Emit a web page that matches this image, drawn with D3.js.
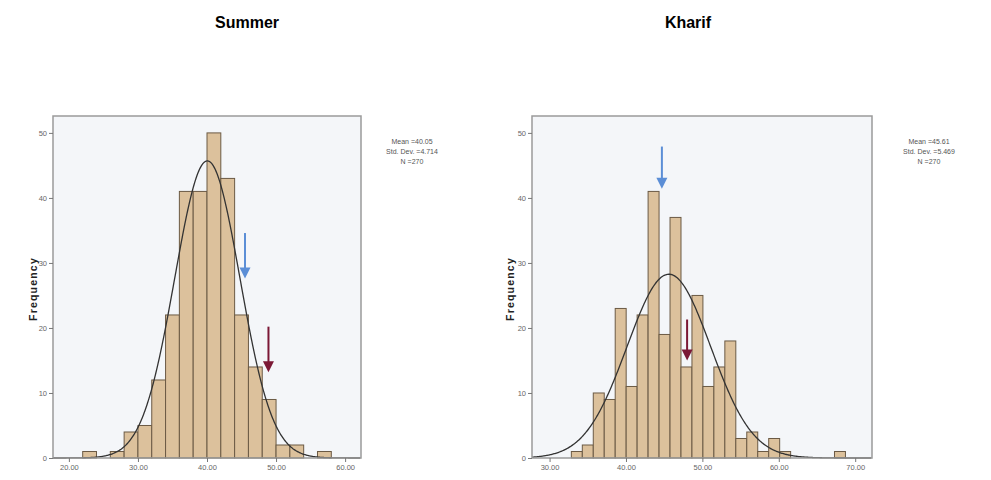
<!DOCTYPE html>
<html>
<head>
<meta charset="utf-8">
<script src="https://cdn.jsdelivr.net/npm/d3@7"></script>
<style>
  html, body { margin: 0; padding: 0; background: #ffffff; }
  svg { display: block; font-family: "Liberation Sans", Arial, sans-serif; }
</style>
</head>
<body>
<svg id="chart" width="991" height="480"></svg>
<script>
// ---- Summer season histogram ----
const summerTitle = "Summer";
const summerBinStart = 22;
const summerBinWidth = 2;
const summerCounts = [1, 0, 1, 4, 5, 12, 22, 41, 41, 50, 43, 22, 14, 9, 2, 2, 0, 1];
const summerMean = 40.05;
const summerSd = 4.714;
const summerN = 270;
const summerXTicks = [20, 30, 40, 50, 60];
const summerStats = ["Mean =40.05", "Std. Dev. =4.714", "N =270"];
// arrows: [x value, top frequency, tip frequency]
const summerBlueArrow = [45.5, 34.6, 27.6];
const summerRedArrow = [48.9, 20.2, 13.2];

// ---- Kharif season histogram ----
const kharifTitle = "Kharif";
const kharifBinStart = 32.85;
const kharifBinWidth = 1.435;
const kharifCounts = [1, 2, 10, 9, 23, 11, 22, 41, 19, 37, 14, 25, 11, 14, 18, 3, 4, 1, 3, 1, 0, 0, 0, 0, 1];
const kharifMean = 45.61;
const kharifSd = 5.469;
const kharifN = 270;
const kharifXTicks = [30, 40, 50, 60, 70];
const kharifStats = ["Mean =45.61", "Std. Dev. =5.469", "N =270"];
const kharifBlueArrow = [44.7, 47.9, 41.4];
const kharifRedArrow = [48.0, 21.3, 15.0];

const yTicks = [0, 10, 20, 30, 40, 50];
const yLabel = "Frequency";

const svg = d3.select("#chart");

function drawPanel(cfg) {
  const x = d3.scaleLinear().domain(cfg.xDomain).range([cfg.left, cfg.right]);
  const y = d3.scaleLinear().domain([0, 52.6]).range([cfg.bottom, cfg.top]);
  const g = svg.append("g");

  // chart title
  g.append("text")
    .attr("x", cfg.titleX).attr("y", 28)
    .attr("text-anchor", "middle")
    .attr("font-size", 16).attr("font-weight", "bold")
    .attr("fill", "#000")
    .text(cfg.title);

  // plot background
  g.append("rect")
    .attr("x", cfg.left).attr("y", cfg.top)
    .attr("width", cfg.right - cfg.left).attr("height", cfg.bottom - cfg.top)
    .attr("fill", "#f4f6f9");

  // histogram bars
  const bins = cfg.counts.map((c, i) => ({
    x0: cfg.binStart + i * cfg.binWidth,
    x1: cfg.binStart + (i + 1) * cfg.binWidth,
    count: c
  })).filter(d => d.count > 0);

  g.selectAll("rect.bar").data(bins).enter().append("rect")
    .attr("class", "bar")
    .attr("x", d => x(d.x0))
    .attr("y", d => y(d.count))
    .attr("width", d => x(d.x1) - x(d.x0))
    .attr("height", d => y(0) - y(d.count))
    .attr("fill", "#dcc19c")
    .attr("stroke", "#6b5a45")
    .attr("stroke-width", 1);

  // fitted normal curve scaled to counts
  const scale = cfg.n * cfg.binWidth / (cfg.sd * Math.sqrt(2 * Math.PI));
  const xs = d3.range(cfg.xDomain[0], cfg.xDomain[1], 0.1);
  const curve = xs.map(v => [v, scale * Math.exp(-0.5 * Math.pow((v - cfg.mean) / cfg.sd, 2))]);
  g.append("path")
    .datum(curve)
    .attr("fill", "none")
    .attr("stroke", "#333333")
    .attr("stroke-width", 1.3)
    .attr("d", d3.line().x(d => x(d[0])).y(d => y(d[1])));

  // frame
  g.append("rect")
    .attr("x", cfg.left).attr("y", cfg.top)
    .attr("width", cfg.right - cfg.left).attr("height", cfg.bottom - cfg.top)
    .attr("fill", "none")
    .attr("stroke", "#9a9a9a")
    .attr("stroke-width", 1.5);

  // axes
  const yAxis = d3.axisLeft(y).tickValues(yTicks).tickSize(4).tickPadding(2).tickFormat(d3.format("d"));
  const ya = g.append("g").attr("transform", `translate(${cfg.left},0)`).call(yAxis);
  ya.select(".domain").remove();
  ya.selectAll("line").attr("stroke", "#777");
  ya.selectAll("text").attr("font-size", 7.5).attr("fill", "#666");

  const xAxis = d3.axisBottom(x).tickValues(cfg.xTicks).tickSize(4).tickPadding(3).tickFormat(d3.format(".2f"));
  const xa = g.append("g").attr("transform", `translate(0,${cfg.bottom})`).call(xAxis);
  xa.select(".domain").remove();
  xa.selectAll("line").attr("stroke", "#777");
  xa.selectAll("text").attr("font-size", 7.5).attr("fill", "#666");

  // y axis title
  g.append("text")
    .attr("transform", `translate(${cfg.yLabelX},${(cfg.top + cfg.bottom) / 2 + 2}) rotate(-90)`)
    .attr("text-anchor", "middle")
    .attr("font-size", 10.5).attr("font-weight", "bold")
    .attr("letter-spacing", 1.2)
    .attr("fill", "#222")
    .text(yLabel);

  // summary statistics
  g.selectAll("text.stat").data(cfg.stats).enter().append("text")
    .attr("class", "stat")
    .attr("x", cfg.statX)
    .attr("y", (d, i) => 144 + i * 10)
    .attr("text-anchor", "middle")
    .attr("font-size", 7)
    .attr("fill", "#555")
    .text(d => d);

  // arrows
  function arrow(a, color) {
    const ax = x(a[0]);
    const yTop = y(a[1]);
    const yTip = y(a[2]);
    g.append("line")
      .attr("x1", ax).attr("x2", ax)
      .attr("y1", yTop).attr("y2", yTip - 8)
      .attr("stroke", color).attr("stroke-width", 2);
    g.append("path")
      .attr("d", `M${ax - 5.5},${yTip - 11} L${ax + 5.5},${yTip - 11} L${ax},${yTip} Z`)
      .attr("fill", color);
  }
  arrow(cfg.blue, "#5b8ed6");
  arrow(cfg.red, "#7b1836");
}

drawPanel({
  title: summerTitle, titleX: 247,
  left: 53, right: 361, top: 116, bottom: 458,
  xDomain: [17.7, 62.3],
  binStart: summerBinStart, binWidth: summerBinWidth, counts: summerCounts,
  mean: summerMean, sd: summerSd, n: summerN,
  xTicks: summerXTicks, stats: summerStats, statX: 412,
  yLabelX: 37,
  blue: summerBlueArrow, red: summerRedArrow
});

drawPanel({
  title: kharifTitle, titleX: 688,
  left: 532, right: 872, top: 116, bottom: 458,
  xDomain: [27.7, 72.2],
  binStart: kharifBinStart, binWidth: kharifBinWidth, counts: kharifCounts,
  mean: kharifMean, sd: kharifSd, n: kharifN,
  xTicks: kharifXTicks, stats: kharifStats, statX: 929,
  yLabelX: 514,
  blue: kharifBlueArrow, red: kharifRedArrow
});
</script>
</body>
</html>
